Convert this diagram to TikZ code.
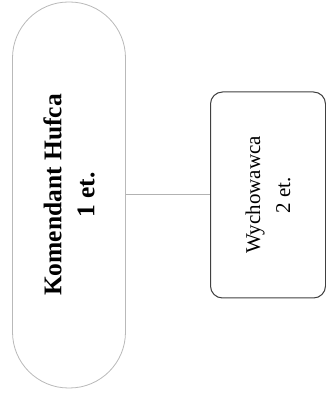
\documentclass[tikz,border=0pt]{standalone}
\usepackage{fontspec}
\setmainfont{Liberation Serif}
\usetikzlibrary{positioning}

\begin{document}
\begin{tikzpicture}[
    x=1pt, y=1pt,
    pillbox/.style={draw=gray!55, line width=0.8pt, rounded corners=56pt, rotate=90, align=center, minimum width=386pt, minimum height=113pt, inner sep=0pt},
    unitbox/.style={draw=black!75, line width=1pt, rounded corners=12pt, rotate=90, align=center, minimum width=206pt, minimum height=115pt, inner sep=0pt},
    link/.style={draw=gray!60, line width=1pt}
]
\useasboundingbox (0,0) rectangle (326,394);
\node[pillbox, font=\fontsize{25.5}{33}\selectfont\bfseries] (kom) at (69,199) {Komendant Hufca\\1 et.};
\node[unitbox, font=\fontsize{21}{30}\selectfont] (wych) at (268,199) {Wychowawca\\2 et.};
\draw[link] (kom.south) -- (wych.north);
\end{tikzpicture}
\end{document}
